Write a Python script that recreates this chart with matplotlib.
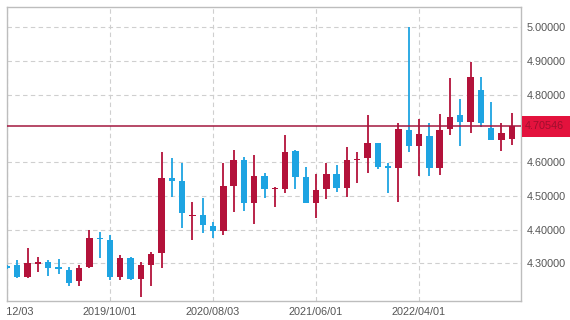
import numpy as np
import matplotlib
matplotlib.use("Agg")
import matplotlib.pyplot as plt
from matplotlib.patches import Rectangle
from matplotlib.transforms import blended_transform_factory, Bbox, TransformedBbox

# --- monthly OHLC, 2018/12 .. 2023/01 ---
opens = [4.292, 4.295, 4.260, 4.298, 4.304, 4.286, 4.280, 4.248, 4.289, 4.375,
         4.369, 4.260, 4.316, 4.254, 4.295, 4.331, 4.553, 4.544, 4.439, 4.443,
         4.411, 4.396, 4.529, 4.606, 4.479, 4.559, 4.519, 4.520, 4.633, 4.556,
         4.479, 4.520, 4.565, 4.523, 4.605, 4.612, 4.656, 4.588, 4.582, 4.695,
         4.648, 4.677, 4.582, 4.698, 4.739, 4.719, 4.813, 4.701, 4.665, 4.668]
highs = [4.296, 4.310, 4.345, 4.319, 4.310, 4.313, 4.289, 4.295, 4.399, 4.393,
         4.384, 4.325, 4.319, 4.304, 4.334, 4.630, 4.612, 4.597, 4.482, 4.493,
         4.422, 4.597, 4.636, 4.615, 4.621, 4.568, 4.526, 4.680, 4.636, 4.585,
         4.565, 4.597, 4.591, 4.645, 4.630, 4.739, 4.656, 4.597, 4.716, 5.000,
         4.727, 4.716, 4.742, 4.849, 4.787, 4.896, 4.852, 4.778, 4.716, 4.745]
lows = [4.283, 4.257, 4.257, 4.274, 4.262, 4.268, 4.233, 4.233, 4.286, 4.316,
        4.251, 4.251, 4.251, 4.200, 4.233, 4.286, 4.496, 4.405, 4.369, 4.390,
        4.375, 4.384, 4.452, 4.455, 4.416, 4.493, 4.467, 4.508, 4.520, 4.479,
        4.434, 4.490, 4.511, 4.496, 4.538, 4.568, 4.579, 4.508, 4.482, 4.630,
        4.559, 4.559, 4.562, 4.680, 4.648, 4.686, 4.704, 4.665, 4.633, 4.650]
closes = [4.287, 4.260, 4.301, 4.301, 4.286, 4.283, 4.242, 4.286, 4.375, 4.371,
          4.260, 4.316, 4.254, 4.295, 4.328, 4.553, 4.544, 4.449, 4.441, 4.413,
          4.396, 4.529, 4.606, 4.479, 4.559, 4.520, 4.521, 4.630, 4.556, 4.479,
          4.517, 4.565, 4.523, 4.606, 4.607, 4.656, 4.585, 4.582, 4.698, 4.648,
          4.683, 4.582, 4.695, 4.733, 4.719, 4.852, 4.716, 4.665, 4.686, 4.70546]

tick_idx = [0, 10, 20, 30, 40]
tick_labels = ["2018/12/03", "2019/10/01", "2020/08/03", "2021/06/01", "2022/04/01"]
y_ticks = [4.3, 4.4, 4.5, 4.6, 4.8, 4.9, 5.0]
last_price = 4.70546

UP = "#B3123A"
DOWN = "#1EA4E2"
LINE = "#A3173F"
BOX = "#E3123D"
TXT = "#555555"

plt.rcParams["font.family"] = ["Liberation Sans", "DejaVu Sans"]

fig = plt.figure(figsize=(5.7, 3.2), dpi=100)
ax = fig.add_axes([7 / 570, 19 / 320, 514 / 570, 294 / 320])

x = np.arange(len(opens))
o = np.array(opens)
c = np.array(closes)
colors = [UP if cc >= oo else DOWN for oo, cc in zip(o, c)]

ax.vlines(x, lows, highs, colors=colors, linewidth=1.3, zorder=3)
body = np.maximum(np.abs(c - o), 0.005)
ax.bar(x, body, bottom=np.minimum(o, c), width=0.62, color=colors, zorder=4)

ax.axhline(last_price, color=LINE, linewidth=1.1, zorder=5)

ax.set_xlim(0, 49.9)
ax.set_ylim(4.1884, 5.0592)

ax.set_xticks(tick_idx)
ax.set_xticklabels(tick_labels)
ax.yaxis.tick_right()
ax.set_yticks(y_ticks)
ax.set_yticklabels([f"{v:.5f}" for v in y_ticks])
ax.tick_params(axis="both", length=0, labelsize=7.8, colors=TXT)
ax.tick_params(axis="y", pad=4)
ax.tick_params(axis="x", pad=4)

# the first date label is cut at the plot's left edge, as in the source chart
clip = TransformedBbox(Bbox([[7 / 570, 0], [1, 1]]), fig.transFigure)
first = ax.get_xticklabels()[0]
first.set_clip_box(clip)
first.set_clip_on(True)

ax.grid(True, color="#CFCFCF", linestyle=(0, (4, 3)), linewidth=0.8, zorder=0)
ax.set_axisbelow(True)
for s in ax.spines.values():
    s.set_color("#BDBDBD")
    s.set_linewidth(1.0)

# price label box on the right
tr = blended_transform_factory(ax.transAxes, ax.transData)
ax.add_patch(Rectangle((1.002, last_price - 0.031), 0.12, 0.062, transform=tr,
                       facecolor=BOX, edgecolor="none", clip_on=False, zorder=6))
ax.text(1.008, last_price, f"{last_price:.5f}", transform=tr, fontsize=7.8,
        color="#9E0F2E", va="center", ha="left", zorder=7, clip_on=False)

fig.savefig("out.png", dpi=100)
